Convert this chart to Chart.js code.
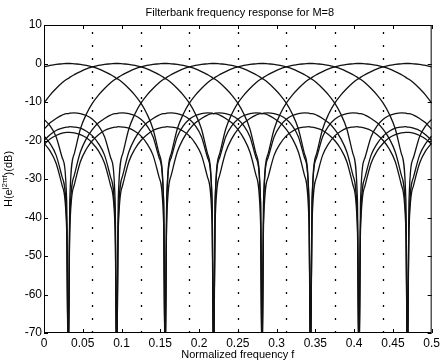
<!DOCTYPE html>
<html>
<head>
<meta charset="utf-8">
<script src="https://cdn.jsdelivr.net/npm/chart.js@4.4.1/dist/chart.umd.min.js"></script>
<style>
html, body { margin: 0; padding: 0; background: #fff; }
canvas { display: block; }
</style>
</head>
<body>
<canvas id="myChart" width="443" height="364"></canvas>
<script>
// frequency grid (normalized frequency f), denser right at the notches
const freq = [0, .0078, .0156, .0234, .0293, .03125, .0332, .0391, .0469, .0547, .0625, .0703, .0781, .0859,
  .0918, .09375, .0957, .1016, .1094, .1172, .125, .1328, .1406, .1484,
  .1543, .15625, .1582, .1641, .1719, .1797, .1875, .1953, .2031, .2109,
  .2168, .21875, .2207, .2266, .2344, .2422, .25, .2578, .2656, .2734,
  .2793, .28125, .2832, .2891, .2969, .3047, .3125, .3203, .3281, .3359,
  .3418, .34375, .3457, .3516, .3594, .3672, .375, .3828, .3906, .3984,
  .4043, .40625, .4082, .4141, .4219, .4297, .4375, .4453, .4531, .4609,
  .4668, .46875, .4707, .4766, .4844, .4922, .5];

// |H_k| in dB for the 8 channels (-80 = notch, below the axis)
const band0 = [-0.9,-0.5,-0.2,-0.1, 0,0,0, -0.1,-0.2,-0.5,-0.9,-1.4,-2.1,-2.9, -3.6,-3.9,-4.1, -5.0,-6.5,-8.2,-10.3,-13.1,-17.0,-23.4, -35.8,-80,-36.0, -24.4,-19.0,-16.2,-14.5,-13.5,-13.0,-12.8, -12.9,-13.0,-13.0, -13.4,-14.3,-15.4,-17.1,-19.5,-23.0,-29.0, -41.2,-80,-41.3, -29.5,-23.8,-20.8,-18.8,-17.6,-16.8,-16.5, -16.4,-16.5,-16.5, -16.8,-17.4,-18.5,-20.0,-22.2,-25.5,-31.5, -43.5,-80,-43.6, -31.7,-25.9,-22.7,-20.7,-19.3,-18.5,-18.0, -17.9,-17.9,-17.9, -18.1,-18.7,-19.6,-21.0];
const band1 = [-10.3,-8.2,-6.5,-5.0, -4.1,-3.9,-3.6, -2.9,-2.1,-1.4,-0.9,-0.5,-0.2,-0.1, 0,0,0, -0.1,-0.2,-0.5,-0.9,-1.4,-2.1,-2.9, -3.6,-3.9,-4.1, -5.0,-6.5,-8.2,-10.3,-13.1,-17.0,-23.4, -35.8,-80,-36.0, -24.4,-19.0,-16.2,-14.5,-13.5,-13.0,-12.8, -12.9,-13.0,-13.0, -13.4,-14.3,-15.4,-17.1,-19.5,-23.0,-29.0, -41.2,-80,-41.3, -29.5,-23.8,-20.8,-18.8,-17.6,-16.8,-16.5, -16.4,-16.5,-16.5, -16.8,-17.4,-18.5,-20.0,-22.2,-25.5,-31.5, -43.5,-80,-43.6, -31.7,-25.9,-22.7,-20.7];
const band2 = [-14.5,-16.2,-19.0,-24.4, -36.0,-80,-35.8, -23.4,-17.0,-13.1,-10.3,-8.2,-6.5,-5.0, -4.1,-3.9,-3.6, -2.9,-2.1,-1.4,-0.9,-0.5,-0.2,-0.1, 0,0,0, -0.1,-0.2,-0.5,-0.9,-1.4,-2.1,-2.9, -3.6,-3.9,-4.1, -5.0,-6.5,-8.2,-10.3,-13.1,-17.0,-23.4, -35.8,-80,-36.0, -24.4,-19.0,-16.2,-14.5,-13.5,-13.0,-12.8, -12.9,-13.0,-13.0, -13.4,-14.3,-15.4,-17.1,-19.5,-23.0,-29.0, -41.2,-80,-41.3, -29.5,-23.8,-20.8,-18.8,-17.6,-16.8,-16.5, -16.4,-16.5,-16.5, -16.8,-17.4,-18.5,-20.0];
const band3 = [-17.1,-15.4,-14.3,-13.4, -13.0,-13.0,-12.9, -12.8,-13.0,-13.5,-14.5,-16.2,-19.0,-24.4, -36.0,-80,-35.8, -23.4,-17.0,-13.1,-10.3,-8.2,-6.5,-5.0, -4.1,-3.9,-3.6, -2.9,-2.1,-1.4,-0.9,-0.5,-0.2,-0.1, 0,0,0, -0.1,-0.2,-0.5,-0.9,-1.4,-2.1,-2.9, -3.6,-3.9,-4.1, -5.0,-6.5,-8.2,-10.3,-13.1,-17.0,-23.4, -35.8,-80,-36.0, -24.4,-19.0,-16.2,-14.5,-13.5,-13.0,-12.8, -12.9,-13.0,-13.0, -13.4,-14.3,-15.4,-17.1,-19.5,-23.0,-29.0, -41.2,-80,-41.3, -29.5,-23.8,-20.8,-18.8];
const band4 = [-18.8,-20.8,-23.8,-29.5, -41.3,-80,-41.2, -29.0,-23.0,-19.5,-17.1,-15.4,-14.3,-13.4, -13.0,-13.0,-12.9, -12.8,-13.0,-13.5,-14.5,-16.2,-19.0,-24.4, -36.0,-80,-35.8, -23.4,-17.0,-13.1,-10.3,-8.2,-6.5,-5.0, -4.1,-3.9,-3.6, -2.9,-2.1,-1.4,-0.9,-0.5,-0.2,-0.1, 0,0,0, -0.1,-0.2,-0.5,-0.9,-1.4,-2.1,-2.9, -3.6,-3.9,-4.1, -5.0,-6.5,-8.2,-10.3,-13.1,-17.0,-23.4, -35.8,-80,-36.0, -24.4,-19.0,-16.2,-14.5,-13.5,-13.0,-12.8, -12.9,-13.0,-13.0, -13.4,-14.3,-15.4,-17.1];
const band5 = [-20.0,-18.5,-17.4,-16.8, -16.5,-16.5,-16.4, -16.5,-16.8,-17.6,-18.8,-20.8,-23.8,-29.5, -41.3,-80,-41.2, -29.0,-23.0,-19.5,-17.1,-15.4,-14.3,-13.4, -13.0,-13.0,-12.9, -12.8,-13.0,-13.5,-14.5,-16.2,-19.0,-24.4, -36.0,-80,-35.8, -23.4,-17.0,-13.1,-10.3,-8.2,-6.5,-5.0, -4.1,-3.9,-3.6, -2.9,-2.1,-1.4,-0.9,-0.5,-0.2,-0.1, 0,0,0, -0.1,-0.2,-0.5,-0.9,-1.4,-2.1,-2.9, -3.6,-3.9,-4.1, -5.0,-6.5,-8.2,-10.3,-13.1,-17.0,-23.4, -35.8,-80,-36.0, -24.4,-19.0,-16.2,-14.5];
const band6 = [-20.7,-22.7,-25.9,-31.7, -43.6,-80,-43.5, -31.5,-25.5,-22.2,-20.0,-18.5,-17.4,-16.8, -16.5,-16.5,-16.4, -16.5,-16.8,-17.6,-18.8,-20.8,-23.8,-29.5, -41.3,-80,-41.2, -29.0,-23.0,-19.5,-17.1,-15.4,-14.3,-13.4, -13.0,-13.0,-12.9, -12.8,-13.0,-13.5,-14.5,-16.2,-19.0,-24.4, -36.0,-80,-35.8, -23.4,-17.0,-13.1,-10.3,-8.2,-6.5,-5.0, -4.1,-3.9,-3.6, -2.9,-2.1,-1.4,-0.9,-0.5,-0.2,-0.1, 0,0,0, -0.1,-0.2,-0.5,-0.9,-1.4,-2.1,-2.9, -3.6,-3.9,-4.1, -5.0,-6.5,-8.2,-10.3];
const band7 = [-21.0,-19.6,-18.7,-18.1, -17.9,-17.9,-17.9, -18.0,-18.5,-19.3,-20.7,-22.7,-25.9,-31.7, -43.6,-80,-43.5, -31.5,-25.5,-22.2,-20.0,-18.5,-17.4,-16.8, -16.5,-16.5,-16.4, -16.5,-16.8,-17.6,-18.8,-20.8,-23.8,-29.5, -41.3,-80,-41.2, -29.0,-23.0,-19.5,-17.1,-15.4,-14.3,-13.4, -13.0,-13.0,-12.9, -12.8,-13.0,-13.5,-14.5,-16.2,-19.0,-24.4, -36.0,-80,-35.8, -23.4,-17.0,-13.1,-10.3,-8.2,-6.5,-5.0, -4.1,-3.9,-3.6, -2.9,-2.1,-1.4,-0.9,-0.5,-0.2,-0.1, 0,0,0, -0.1,-0.2,-0.5,-0.9];

// dotted band edges
const dividers = [0.0625, 0.125, 0.1875, 0.25, 0.3125, 0.375, 0.4375];

const FONT = '"Liberation Sans", Arial, Helvetica, sans-serif';
const bands = [band0, band1, band2, band3, band4, band5, band6, band7];

// box, inside ticks, dotted lines and the texts, matlab style
const framePlugin = {
    id: 'frame',
    beforeDatasetsDraw(chart) {
        const { ctx, chartArea: a, scales: { x } } = chart;
        ctx.save();
        ctx.strokeStyle = '#000';
        ctx.lineWidth = 1.3;
        ctx.setLineDash([2, 11]);
        dividers.forEach(d => {
            const px = Math.round(x.getPixelForValue(d)) + 0.5;
            ctx.beginPath();
            ctx.moveTo(px, a.bottom);
            ctx.lineTo(px, a.top);
            ctx.stroke();
        });
        ctx.restore();
    },
    afterDraw(chart) {
        const { ctx, chartArea: a, scales: { x, y } } = chart;
        ctx.save();
        ctx.strokeStyle = '#000';
        ctx.lineWidth = 1;
        ctx.strokeRect(a.left + 0.5, a.top + 0.5, a.right - a.left - 1, a.bottom - a.top - 1);
        ctx.beginPath();
        x.ticks.forEach(t => {
            const px = Math.round(x.getPixelForValue(t.value)) + 0.5;
            ctx.moveTo(px, a.bottom); ctx.lineTo(px, a.bottom - 4);
            ctx.moveTo(px, a.top); ctx.lineTo(px, a.top + 4);
        });
        y.ticks.forEach(t => {
            const py = Math.round(y.getPixelForValue(t.value)) + 0.5;
            ctx.moveTo(a.left, py); ctx.lineTo(a.left + 4, py);
            ctx.moveTo(a.right, py); ctx.lineTo(a.right - 4, py);
        });
        ctx.stroke();

        const cx = (a.left + a.right) / 2;
        ctx.fillStyle = '#000';
        ctx.font = '11px ' + FONT;
        ctx.textAlign = 'center';
        ctx.textBaseline = 'middle';
        ctx.fillText('Filterbank frequency response for M=8', cx + 2, 13);
        ctx.fillText('Normalized frequency f', cx, 355);

        // y label with superscript
        const base = '11px ' + FONT, sup = '8px ' + FONT;
        const parts = [['H(e', base, 0], ['j2\u03c0f', sup, -4], [')(dB)', base, 0]];
        let total = 0;
        parts.forEach(p => { ctx.font = p[1]; total += ctx.measureText(p[0]).width; });
        ctx.translate(9, (a.top + a.bottom) / 2);
        ctx.rotate(-Math.PI / 2);
        ctx.textAlign = 'left';
        let pos = -total / 2;
        parts.forEach(p => {
            ctx.font = p[1];
            ctx.fillText(p[0], pos, p[2]);
            pos += ctx.measureText(p[0]).width;
        });
        ctx.restore();
    }
};

const ctx1 = document.getElementById('myChart').getContext('2d');

new Chart(ctx1, {
    type: 'line',
    data: {
        labels: freq,
        datasets: bands.map((b, i) => ({
            label: 'H' + i,
            data: b,
            borderColor: '#111',
            borderWidth: 1.3,
            pointRadius: 0,
            cubicInterpolationMode: 'monotone',
            fill: false
        }))
    },
    options: {
        responsive: false,
        animation: false,
        layout: { padding: { top: 25, right: 8, left: 0, bottom: 0 } },
        plugins: { legend: { display: false }, tooltip: { enabled: false }, title: { display: false } },
        scales: {
            x: {
                type: 'linear',
                min: 0,
                max: 0.5,
                grid: { display: false, drawTicks: false },
                border: { display: false },
                ticks: {
                    stepSize: 0.05,
                    padding: 3,
                    autoSkip: false,
                    maxRotation: 0,
                    color: '#000',
                    font: { family: FONT, size: 12 },
                    callback: v => String(Math.round(v * 100) / 100)
                },
                afterFit: s => { s.height = 31; }
            },
            y: {
                min: -70,
                max: 10,
                grid: { display: false, drawTicks: false },
                border: { display: false },
                ticks: {
                    stepSize: 10,
                    padding: 2,
                    color: '#000',
                    font: { family: FONT, size: 12 }
                },
                afterFit: s => { s.width = 44; }
            }
        }
    },
    plugins: [framePlugin]
});
</script>
</body>
</html>
